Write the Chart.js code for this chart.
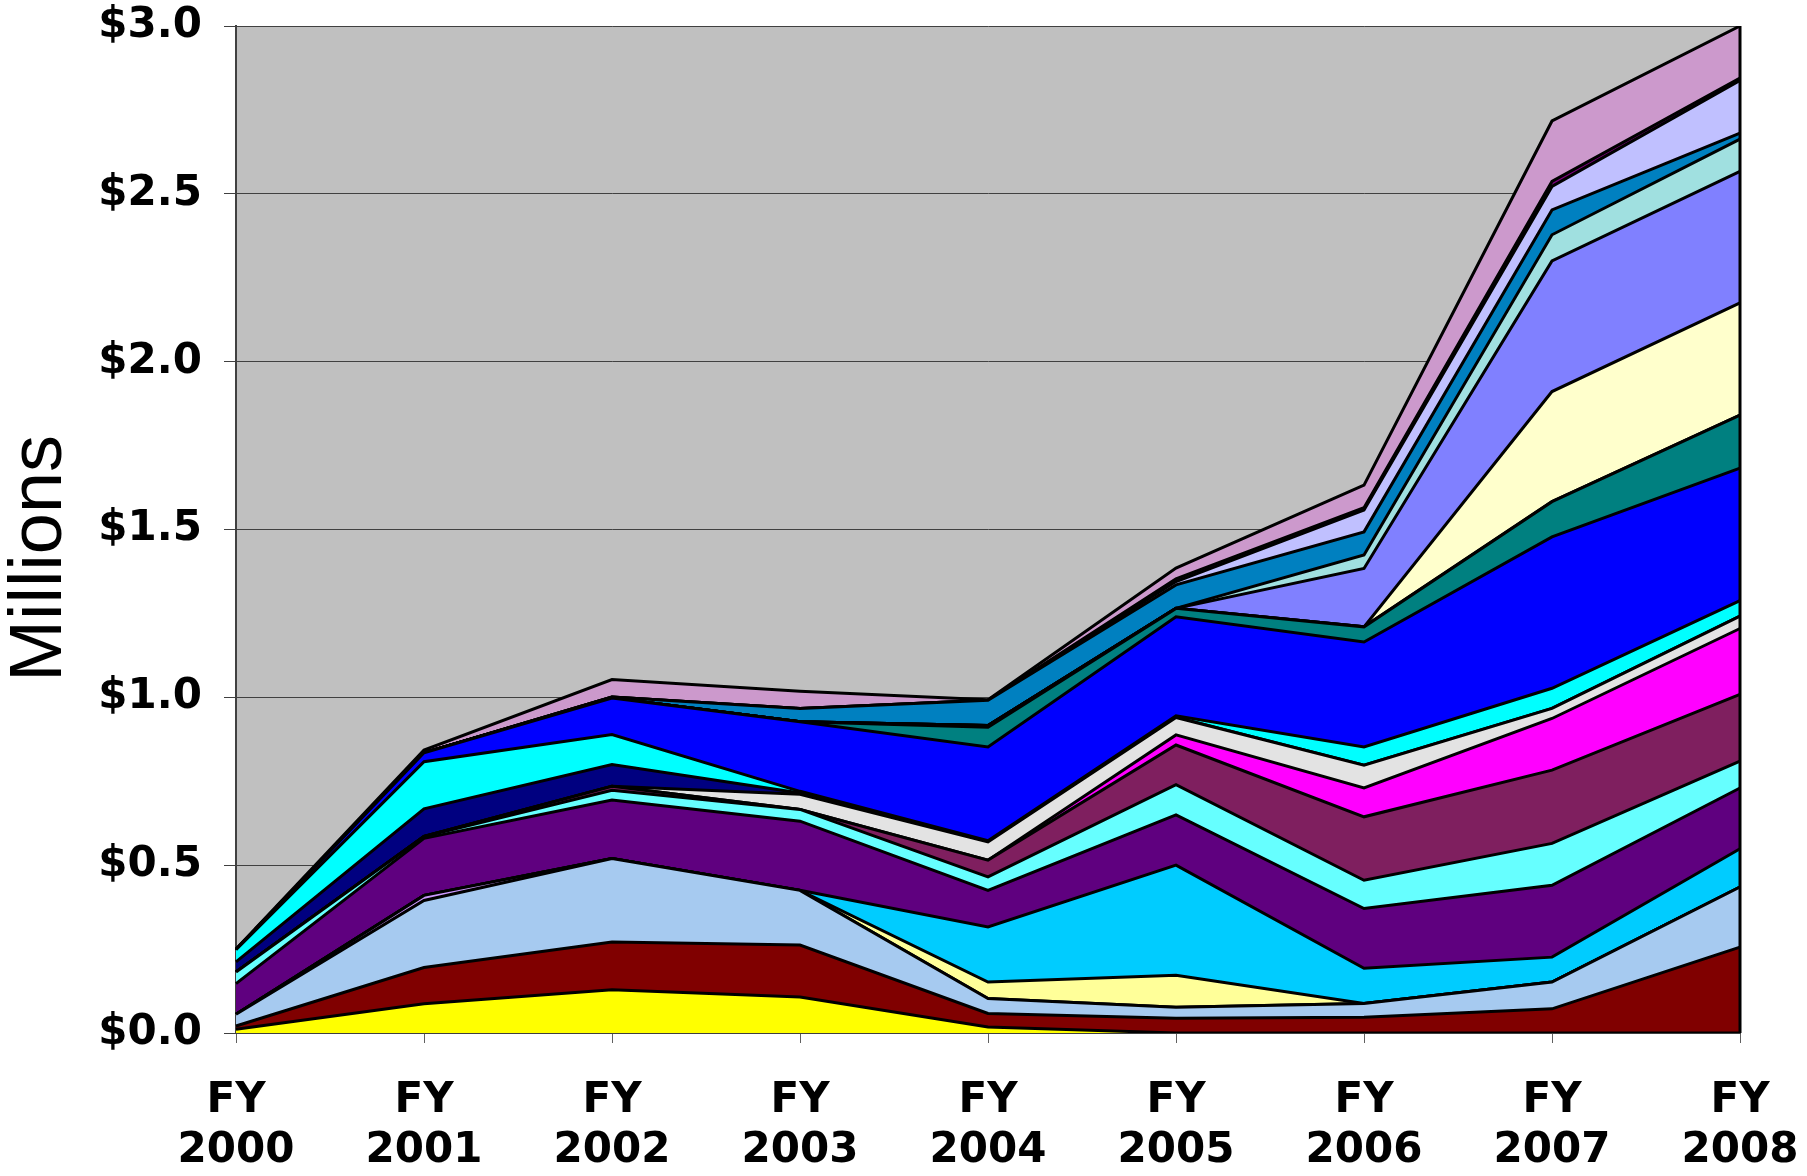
<!DOCTYPE html>
<html>
<head>
<meta charset="utf-8">
<script src="https://cdn.jsdelivr.net/npm/chart.js@4.4.1/dist/chart.umd.min.js"></script>
<style>
html,body{margin:0;padding:0;background:#fff;}
#wrap{position:relative;width:1807px;height:1176px;}
</style>
</head>
<body>
<div id="wrap"><canvas id="chart1"></canvas></div>
<script>
// fiscal years (x categories)
const years = ["2000","2001","2002","2003","2004","2005","2006","2007","2008"];
// y axis ticks, in $ millions
const yTicks = [0,0.5,1.0,1.5,2.0,2.5,3.0];

// series values, $ millions, bottom of the stack first
const sYellow     = [0.011,0.087,0.129,0.107,0.018,0.000,0.000,0.000,0.000];
const sMaroon     = [0.010,0.108,0.142,0.155,0.040,0.044,0.047,0.072,0.256];
const sLightBlue  = [0.035,0.200,0.249,0.163,0.045,0.033,0.041,0.080,0.179];
const sLilac      = [0.000,0.015,0.000,0.000,0.000,0.000,0.000,0.000,0.000];
const sCream      = [0.000,0.000,0.000,0.000,0.049,0.095,0.000,0.000,0.000];
const sSky        = [0.000,0.000,0.000,0.000,0.164,0.328,0.105,0.074,0.114];
const sPurple     = [0.091,0.170,0.174,0.206,0.109,0.150,0.178,0.214,0.181];
const sAqua       = [0.035,0.005,0.029,0.035,0.040,0.090,0.084,0.125,0.080];
const sPlum       = [0.000,0.001,0.012,0.000,0.050,0.118,0.189,0.218,0.199];
const sMagenta    = [0.000,0.000,0.000,0.000,0.000,0.030,0.086,0.154,0.196];
const sGrey       = [0.000,0.000,0.000,0.045,0.054,0.052,0.068,0.030,0.037];
const sNavy       = [0.030,0.082,0.065,0.004,0.000,0.000,0.000,0.000,0.000];
const sCyan       = [0.036,0.140,0.089,0.005,0.004,0.005,0.054,0.060,0.046];
const sBlue       = [0.000,0.027,0.109,0.207,0.279,0.295,0.313,0.451,0.395];
const sTeal       = [0.000,0.000,0.000,0.000,0.059,0.025,0.045,0.105,0.158];
const sCoral      = [0.000,0.000,0.000,0.000,0.005,0.000,0.000,0.000,0.000];
const sIvory      = [0.000,0.000,0.000,0.000,0.000,0.000,0.000,0.328,0.334];
const sPeriwinkle = [0.000,0.000,0.000,0.000,0.000,0.000,0.174,0.389,0.392];
const sTurquoise  = [0.000,0.000,0.000,0.000,0.000,0.000,0.040,0.078,0.096];
const sOcean      = [0.000,0.000,0.003,0.040,0.075,0.070,0.069,0.074,0.018];
const sLavender   = [0.000,0.000,0.000,0.000,0.000,0.010,0.065,0.070,0.157];
const sViolet     = [0.000,0.000,0.000,0.000,0.000,0.008,0.007,0.015,0.007];
const sPink       = [0.002,0.008,0.052,0.051,0.002,0.032,0.067,0.180,0.155];

const series = [sYellow,sMaroon,sLightBlue,sLilac,sCream,sSky,sPurple,sAqua,sPlum,sMagenta,sGrey,
  sNavy,sCyan,sBlue,sTeal,sCoral,sIvory,sPeriwinkle,sTurquoise,sOcean,sLavender,sViolet,sPink];
const colors = ["#ffff00","#800000","#a6caf0","#cc99ff","#ffff99","#00ccff","#5f007f","#66ffff","#7f1f5f","#ff00ff","#e3e3e3",
  "#000080","#00ffff","#0000ff","#008080","#ff8080","#ffffcc","#8080ff","#a0e0e0","#0080c0","#c0c0ff","#800080","#cc99cc"];

function makeDatasets(){
  let sets = [];
  for (var i=0;i<series.length;++i) {
    sets.push({label:"s"+i, data:series[i], backgroundColor:colors[i], borderColor:"#000",
      borderWidth:3, pointRadius:0, tension:0, fill: i==0 ? "origin" : "-1"});
  }
  return sets;
}

// grey plot area + black right edge
const plotBg = {
  id:"plotBg",
  beforeDraw(chart){
    const a = chart.chartArea, c = chart.ctx;
    c.save(); c.fillStyle="#c0c0c0"; c.fillRect(a.left,a.top,a.right-a.left,a.bottom-a.top); c.restore();
  },
  afterDatasetsDraw(chart){
    const a = chart.chartArea, c = chart.ctx;
    c.save(); c.strokeStyle="#000"; c.lineWidth=3;
    c.beginPath(); c.moveTo(a.right,a.top); c.lineTo(a.right,a.bottom); c.stroke(); c.restore();
  }
};

const tickFont = {family:"'DejaVu Sans', Verdana, sans-serif", size:42, weight:"bold", lineHeight:1.17};
new Chart(document.getElementById("chart1"), {
  type:"line",
  data:{ labels: years.map(y => ["FY",y]), datasets: makeDatasets() },
  options:{
    responsive:true, maintainAspectRatio:false, animation:false,
    layout:{ padding:{left:0,right:67,top:26,bottom:0} },
    plugins:{ legend:{display:false}, tooltip:{enabled:false} },
    scales:{
      x:{
        offset:false,
        grid:{ drawOnChartArea:false, drawTicks:true, tickLength:10, color:"#606060", lineWidth:1 },
        border:{ color:"#404040", width:2 },
        ticks:{ font:tickFont, color:"#000", padding:34, maxRotation:0, autoSkip:false },
        afterFit(scale){ scale.height = 143; scale.paddingLeft = 0; scale.paddingRight = 0; }
      },
      y:{
        stacked:true, min:0, max:3,
        afterBuildTicks(scale){ scale.ticks = yTicks.map(v => ({value:v})); },
        grid:{ color:"#404040", lineWidth:1, tickLength:12 },
        border:{ color:"#404040", width:2 },
        ticks:{ font:tickFont, color:"#000", padding:22, callback:(v) => "$"+Number(v).toFixed(1) },
        title:{ display:true, text:"Millions\u2002 ", color:"#000", padding:0,
          font:{family:"'Liberation Sans', Arial, sans-serif", size:74, weight:"normal", lineHeight:1.1} },
        afterFit(scale){ scale.width = 236; scale.paddingTop = 0; scale.paddingBottom = 0; }
      }
    }
  },
  plugins:[plotBg]
});
</script>
</body>
</html>
